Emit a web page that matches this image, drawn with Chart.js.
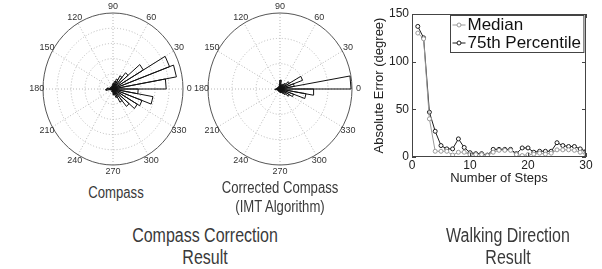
<!DOCTYPE html>
<html>
<head>
<meta charset="utf-8">
<script src="https://cdn.jsdelivr.net/npm/chart.js@4.4.0/dist/chart.umd.min.js"></script>
<style>
  html, body { margin: 0; padding: 0; background: #fff; }
  body { width: 602px; height: 269px; position: relative; overflow: hidden;
         font-family: "Liberation Sans", Arial, sans-serif; color: #3a3a3a; }
  .box { position: absolute; }
  /* the captions use a narrow face, so squeeze a plain sans */
  .cap { position: absolute; white-space: nowrap; transform: translateX(-50%) scaleX(0.82); line-height: 1; }
  .small { font-size: 16px; }
  .big { font-size: 19.5px; }
</style>
</head>
<body>
<div class="box" style="left:23px;top:0;width:180px;height:178px"><canvas id="compass-chart"></canvas></div>
<div class="box" style="left:190px;top:0;width:180px;height:178px"><canvas id="corrected-chart"></canvas></div>
<div class="box" style="left:360px;top:0;width:242px;height:195px"><canvas id="walking-chart"></canvas></div>

<div class="cap small" style="left:116px;top:185px">Compass</div>
<div class="cap small" style="left:280px;top:180px">Corrected Compass</div>
<div class="cap small" style="left:280px;top:199px">(IMT Algorithm)</div>
<div class="cap big" style="left:205px;top:226px">Compass Correction</div>
<div class="cap big" style="left:205px;top:248px">Result</div>
<div class="cap big" style="left:508px;top:226px">Walking Direction</div>
<div class="cap big" style="left:508px;top:248px">Result</div>

<script>
// rose histogram bins (start angle of each 10 degree bin)
const binWidth = 10;
const binDegrees = [0, 10, 20, 30, 40, 50, 60, 70, 80, 90, 100, 110, 120, 130, 140, 150, 160, 170,
    180, 190, 200, 210, 220, 230, 240, 250, 260, 270, 280, 290, 300, 310, 320, 330, 340, 350];
const angleTicks = [0, 30, 60, 90, 120, 150, 180, 210, 240, 270, 300, 330];

// raw compass heading counts, radial max 50
const compassCounts = [38, 46, 43, 25, 14, 10, 7, 5, 4, 3, 2, 2, 1, 1, 2, 1, 2, 4,
    5, 2, 1, 1, 1, 1, 2, 1, 2, 3, 4, 6, 10, 15, 20, 22, 29, 18];
// corrected (IMT) heading counts, radial max 30
const correctedCounts = [29.6, 6, 10, 4.5, 3, 2, 2, 1.5, 3.5, 2, 1, 1, 1, 1, 1, 1, 1, 1.5,
    2, 1, 1, 1, 1, 1, 1, 1, 1, 1.5, 1.5, 1.5, 2, 3, 4.5, 6, 11, 14];

// walking direction error
const steps = [1, 2, 3, 4, 5, 6, 7, 8, 9, 10, 11, 12, 13, 14, 15, 16, 17, 18, 19, 20,
    21, 22, 23, 24, 25, 26, 27, 28, 29, 30];
const medianError = [130, 124, 40, 6, 6, 6, 2, 5, 5, 2.5, 2.5, 2.5, 1.5, 5, 7, 7, 7, 2.5, 1.5, 2.5,
    3, 4, 3, 4, 7.5, 7.5, 7.5, 7, 5, 3];
const p75Error = [137, 125, 47, 27, 12, 8.5, 8.5, 19, 10, 4.5, 3.5, 3.5, 2, 8, 8, 8, 8, 3.5, 9.5, 9.5,
    5, 6, 6, 6, 15, 12, 11, 11, 8.5, 6];

const axisFont = '"Liberation Sans", Arial, sans-serif';

// dotted rings, spokes, outer circle and degree labels of a MATLAB style polar plot
const roseGrid = {
    id: "roseGrid",
    beforeDatasetsDraw(chart, args, opts) {
        const {ctx, scales: {x, y}} = chart;
        const cx = x.getPixelForValue(0), cy = y.getPixelForValue(0);
        const rx = x.getPixelForValue(1) - cx, ry = cy - y.getPixelForValue(1);
        ctx.save();
        ctx.lineWidth = 1;
        ctx.strokeStyle = "#b8b8b8";
        ctx.setLineDash([1, 2]);
        for (let k = 1; k < opts.rings; k++) {
            ctx.beginPath();
            ctx.ellipse(cx, cy, rx * k / opts.rings, ry * k / opts.rings, 0, 0, 2 * Math.PI);
            ctx.stroke();
        }
        angleTicks.forEach(a => {
            if (a >= 180) return;
            const t = a * Math.PI / 180;
            ctx.beginPath();
            ctx.moveTo(cx - rx * Math.cos(t), cy + ry * Math.sin(t));
            ctx.lineTo(cx + rx * Math.cos(t), cy - ry * Math.sin(t));
            ctx.stroke();
        });
        ctx.setLineDash([]);
        ctx.strokeStyle = "#555";
        ctx.beginPath();
        ctx.ellipse(cx, cy, rx, ry, 0, 0, 2 * Math.PI);
        ctx.stroke();

        ctx.fillStyle = "#333";
        ctx.font = "9px " + axisFont;
        ctx.textAlign = "center";
        ctx.textBaseline = "middle";
        angleTicks.forEach(a => {
            const t = a * Math.PI / 180;
            ctx.fillText(String(a), cx + 1.09 * rx * Math.cos(t), cy - 1.09 * ry * Math.sin(t));
        });
        ctx.restore();
    }
};

function roseChart(id, counts, rMax, rings, xRange, yRange) {
    // one outline: centre -> corner -> corner -> centre for each bin
    const pts = [{x: 0, y: 0}];
    binDegrees.forEach((a, i) => {
        const r = counts[i] / rMax;
        const a1 = a * Math.PI / 180, a2 = (a + binWidth) * Math.PI / 180;
        pts.push({x: r * Math.cos(a1), y: r * Math.sin(a1)});
        pts.push({x: r * Math.cos(a2), y: r * Math.sin(a2)});
        pts.push({x: 0, y: 0});
    });
    return new Chart(document.getElementById(id), {
        type: "scatter",
        data: {
            datasets: [{
                data: pts,
                showLine: true,
                borderColor: "#111",
                borderWidth: 1,
                pointRadius: 0,
                fill: false,
                tension: 0,
            }]
        },
        options: {
            responsive: true,
            maintainAspectRatio: false,
            animation: false,
            layout: {padding: 0},
            plugins: {legend: {display: false}, tooltip: {enabled: false}, roseGrid: {rings: rings}},
            scales: {
                x: {type: "linear", display: false, min: -xRange, max: xRange},
                y: {type: "linear", display: false, min: -yRange, max: yRange},
            },
        },
        plugins: [roseGrid],
    });
}

roseChart("compass-chart", compassCounts, 50, 5, 90 / 70, 89 / 76);
roseChart("corrected-chart", correctedCounts, 30, 3, 90 / 72, 89 / 76);

// box around the plot with inward ticks
const axesBox = {
    id: "axesBox",
    afterDatasetsDraw(chart) {
        const {ctx, chartArea: a, scales: {x, y}} = chart;
        ctx.save();
        ctx.strokeStyle = "#444";
        ctx.lineWidth = 1;
        ctx.strokeRect(Math.round(a.left) + 0.5, Math.round(a.top) + 0.5,
            Math.round(a.right - a.left) - 1, Math.round(a.bottom - a.top) - 1);
        ctx.beginPath();
        x.ticks.forEach(t => {
            const px = Math.round(x.getPixelForValue(t.value)) + 0.5;
            ctx.moveTo(px, a.bottom); ctx.lineTo(px, a.bottom - 4);
            ctx.moveTo(px, a.top); ctx.lineTo(px, a.top + 4);
        });
        y.ticks.forEach(t => {
            const py = Math.round(y.getPixelForValue(t.value)) + 0.5;
            ctx.moveTo(a.left, py); ctx.lineTo(a.left + 4, py);
            ctx.moveTo(a.right, py); ctx.lineTo(a.right - 4, py);
        });
        ctx.stroke();
        ctx.restore();
    }
};

// legend box in the upper right corner of the plot
const boxLegend = {
    id: "boxLegend",
    afterDraw(chart) {
        const {ctx, chartArea: a} = chart;
        const sets = chart.data.datasets;
        ctx.save();
        ctx.font = "17px " + axisFont;
        const textW = Math.max(...sets.map(d => ctx.measureText(d.label).width));
        const rowH = 18, sample = 13;
        const w = 2 + sample + 2 + textW + 3, h = rowH * sets.length + 1;
        const right = a.right - 3, top = a.top + 1;
        const left = Math.round(right - w) + 0.5;
        ctx.fillStyle = "#fff";
        ctx.fillRect(left, top + 0.5, w, h);
        ctx.strokeStyle = "#444";
        ctx.lineWidth = 1;
        ctx.strokeRect(left, top + 0.5, w, h);
        sets.forEach((d, i) => {
            const cy = top + 10 + i * rowH;
            ctx.strokeStyle = d.borderColor;
            ctx.beginPath();
            ctx.moveTo(left + 2, cy); ctx.lineTo(left + 2 + sample, cy);
            ctx.stroke();
            ctx.beginPath();
            ctx.arc(left + 2 + sample / 2, cy, 2, 0, 2 * Math.PI);
            ctx.fillStyle = "#fff";
            ctx.fill();
            ctx.stroke();
            ctx.fillStyle = "#111";
            ctx.textBaseline = "middle";
            ctx.fillText(d.label, left + 2 + sample + 2, cy + 0.5);
        });
        ctx.restore();
    }
};

new Chart(document.getElementById("walking-chart"), {
    type: "line",
    data: {
        datasets: [{
            label: "Median",
            data: steps.map((s, i) => ({x: s, y: medianError[i]})),
            borderColor: "#9a9a9a",
            pointBorderColor: "#9a9a9a",
            pointBackgroundColor: "#fff",
            borderWidth: 1,
            pointBorderWidth: 1,
            pointRadius: 2,
            tension: 0,
        }, {
            label: "75th Percentile",
            data: steps.map((s, i) => ({x: s, y: p75Error[i]})),
            borderColor: "#1c1c1c",
            pointBorderColor: "#1c1c1c",
            pointBackgroundColor: "#fff",
            borderWidth: 1,
            pointBorderWidth: 1,
            pointRadius: 2,
            tension: 0,
        }]
    },
    options: {
        responsive: true,
        maintainAspectRatio: false,
        animation: false,
        layout: {padding: {top: 14, right: 16, left: 0, bottom: 0}},
        plugins: {legend: {display: false}, tooltip: {enabled: false}},
        scales: {
            x: {
                type: "linear", min: 0, max: 30,
                ticks: {stepSize: 10, padding: 1, color: "#222", font: {size: 12, family: axisFont}},
                grid: {display: false, drawTicks: false},
                border: {display: false},
                title: {display: true, text: "Number of Steps", color: "#222",
                    font: {size: 13, family: axisFont}, padding: {top: 0, bottom: 9}},
                afterFit(s) { s.height = 38; },
            },
            y: {
                min: 0, max: 150,
                ticks: {stepSize: 50, padding: 3, color: "#222", font: {size: 12, family: axisFont}},
                grid: {display: false, drawTicks: false},
                border: {display: false},
                title: {display: true, text: "Absolute Error (degree)", color: "#222",
                    font: {size: 13, family: axisFont}, padding: {top: 12, bottom: 0}},
                afterFit(s) { s.width = 52; },
            },
        },
    },
    plugins: [axesBox, boxLegend],
});
</script>
</body>
</html>
